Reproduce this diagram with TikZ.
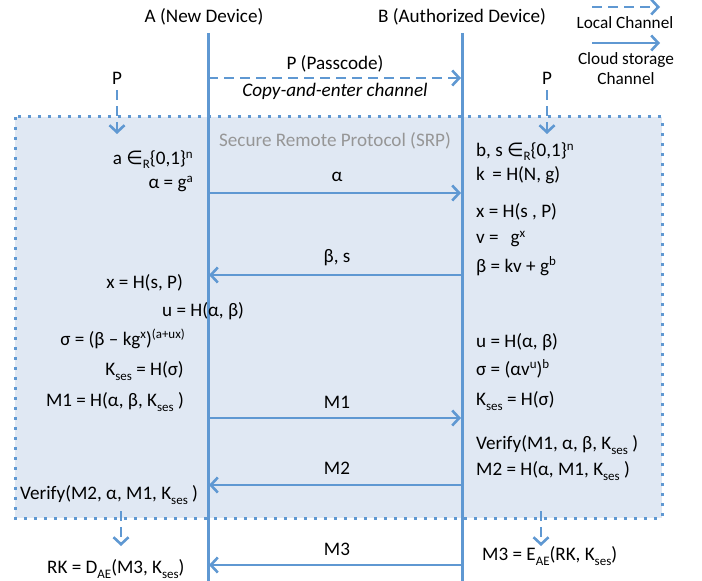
\documentclass[tikz,border=0pt]{standalone}
\usepackage{fontspec}
\setmainfont{Carlito}
\newfontfamily\dejavu{DejaVu Sans}
\usetikzlibrary{arrows.meta}
\definecolor{lblue}{RGB}{95,152,210}
\definecolor{boxfill}{RGB}{224,232,243}
\definecolor{srpgray}{RGB}{150,150,150}
\newcommand\hi[1]{\raisebox{0.7ex}{\fontsize{13}{14}\selectfont #1}}
\newcommand\lo[1]{\raisebox{-0.45ex}{\fontsize{13}{14}\selectfont #1}}
\newcommand\inR{{\dejavu\fontsize{19}{19}\selectfont ∈}\lo{R}}
\tikzset{
  lifeline/.style={draw=lblue,line width=3bp},
  msg/.style={draw=lblue,line width=2.6bp,-{Straight Barb[length=7bp,width=15bp]}},
  dmsg/.style={msg,dash pattern=on 10bp off 6bp},
  txt/.style={inner sep=0pt,font=\fontsize{19.2}{22}\selectfont},
  legtxt/.style={inner sep=0pt,font=\fontsize{17.3}{20}\selectfont},
}
\begin{document}
\begin{tikzpicture}[x=1bp,y=-1bp]
\useasboundingbox (0,0) rectangle (702,581);
% SRP box
\fill[boxfill] (15,117) rectangle (662,518);
\draw[lblue,line width=3bp,dash pattern=on 3bp off 7bp] (15,117) rectangle (662,518);
\node[txt,text=srpgray] (srp) at (335,141) {Secure Remote Protocol (SRP)};
% titles
\node[txt] (A) at (204,17) {A (New Device)};
\node[txt] (B) at (462,17) {B (Authorized Device)};
% lifelines
\coordinate (Atop) at (208,33);
\coordinate (Abot) at (208,582);
\coordinate (Btop) at (462,33);
\coordinate (Bbot) at (462,582);
\draw[lifeline] (Atop) -- (Abot);
\draw[lifeline] (Btop) -- (Bbot);
% legend
\coordinate (l1s) at (592,7); \coordinate (l1e) at (660,7);
\draw[dmsg] (l1s) -- (l1e);
\node[legtxt] (lc) at (625,23) {Local Channel};
\coordinate (l2s) at (592,43); \coordinate (l2e) at (660,43);
\draw[msg] (l2s) -- (l2e);
\node[legtxt] (cs1) at (626,60) {Cloud storage};
\node[legtxt] (cs2) at (626,79) {Channel};
% passcode
\coordinate (pA) at (208,78); \coordinate (pB) at (461,78);
\draw[dmsg] (pA) -- (pB);
\node[txt] (pl) at (335,64) {P (Passcode)};
\node[txt,font=\fontsize{19.2}{22}\selectfont\itshape] (ce) at (335,91) {Copy-and-enter channel};
\node[txt] (PL) at (117,78) {P};
\coordinate (PLe) at (117,134);
\draw[dmsg] (PL.south)++(0,6) -- (PLe);
\node[txt] (PR) at (547,78) {P};
\coordinate (PRe) at (547,134);
\draw[dmsg] (PR.south)++(0,6) -- (PRe);
% alpha
\node[txt,anchor=east] (a1) at (193,160) {a \inR\{0,1\}\hi{n}};
\node[txt,anchor=east] (a2) at (193,184) {α = g\hi{a}};
\coordinate (m1a) at (208,193); \coordinate (m1b) at (461,193);
\draw[msg] (m1a) -- (m1b);
\node[txt] (la) at (337,177) {α};
\node[txt,anchor=west] (b1) at (476,152) {b, s \inR\{0,1\}\hi{n}};
\node[txt,anchor=west] (b2) at (476,175) {k\, = H(N, g)};
\node[txt,anchor=west] (b3) at (476,212) {x = H(s , P)};
\node[txt,anchor=west] (b4) at (476,239) {v = \, g\hi{x}};
\node[txt,anchor=west] (b5) at (476,266) {β = kv + g\hi{b}};
% beta
\coordinate (m2b) at (462,275); \coordinate (m2a) at (209,275);
\draw[msg] (m2b) -- (m2a);
\node[txt] (lb) at (337,258) {β, s};
\node[txt,anchor=east] (a3) at (183,283) {x = H(s, P)};
\node[txt,anchor=west] (a4) at (162,311) {u = H(α, β)};
\node[txt,anchor=east] (a5) at (185,339) {σ = (β – kg\hi{x})\hi{(a+ux)}};
\node[txt,anchor=east] (a6) at (184,371) {K\lo{ses} = H(σ)};
\node[txt,anchor=east] (a7) at (184,402) {M1 = H(α, β, K\lo{ses} )};
\node[txt,anchor=west] (b6) at (476,342) {u = H(α, β)};
\node[txt,anchor=west] (b7) at (476,369) {σ = (αv\hi{u})\hi{b}};
\node[txt,anchor=west] (b8) at (476,401) {K\lo{ses} = H(σ)};
% M1
\coordinate (m3a) at (208,418); \coordinate (m3b) at (461,418);
\draw[msg] (m3a) -- (m3b);
\node[txt] (lm1) at (337,402) {M1};
\node[txt,anchor=west] (b9) at (476,445) {Verify(M1, α, β, K\lo{ses} )};
\node[txt,anchor=west] (b10) at (476,471) {M2 = H(α, M1, K\lo{ses} )};
% M2
\coordinate (m4b) at (462,485); \coordinate (m4a) at (209,485);
\draw[msg] (m4b) -- (m4a);
\node[txt] (lm2) at (337,468) {M2};
\node[txt,anchor=west] (a8) at (20,495) {Verify(M2, α, M1, K\lo{ses} )};
% outside
\coordinate (dLs) at (121,511); \coordinate (dLe) at (121,546);
\draw[dmsg] (dLs) -- (dLe);
\coordinate (dRs) at (541,511); \coordinate (dRe) at (541,546);
\draw[dmsg] (dRs) -- (dRe);
\node[txt,anchor=west] (a9) at (47,569) {RK = D\lo{AE}(M3, K\lo{ses})};
\node[txt,anchor=west] (b11) at (482,556) {M3 = E\lo{AE}(RK, K\lo{ses})};
\coordinate (m5b) at (462,565); \coordinate (m5a) at (209,565);
\draw[msg] (m5b) -- (m5a);
\node[txt] (lm3) at (337,549) {M3};
\end{tikzpicture}
\end{document}
